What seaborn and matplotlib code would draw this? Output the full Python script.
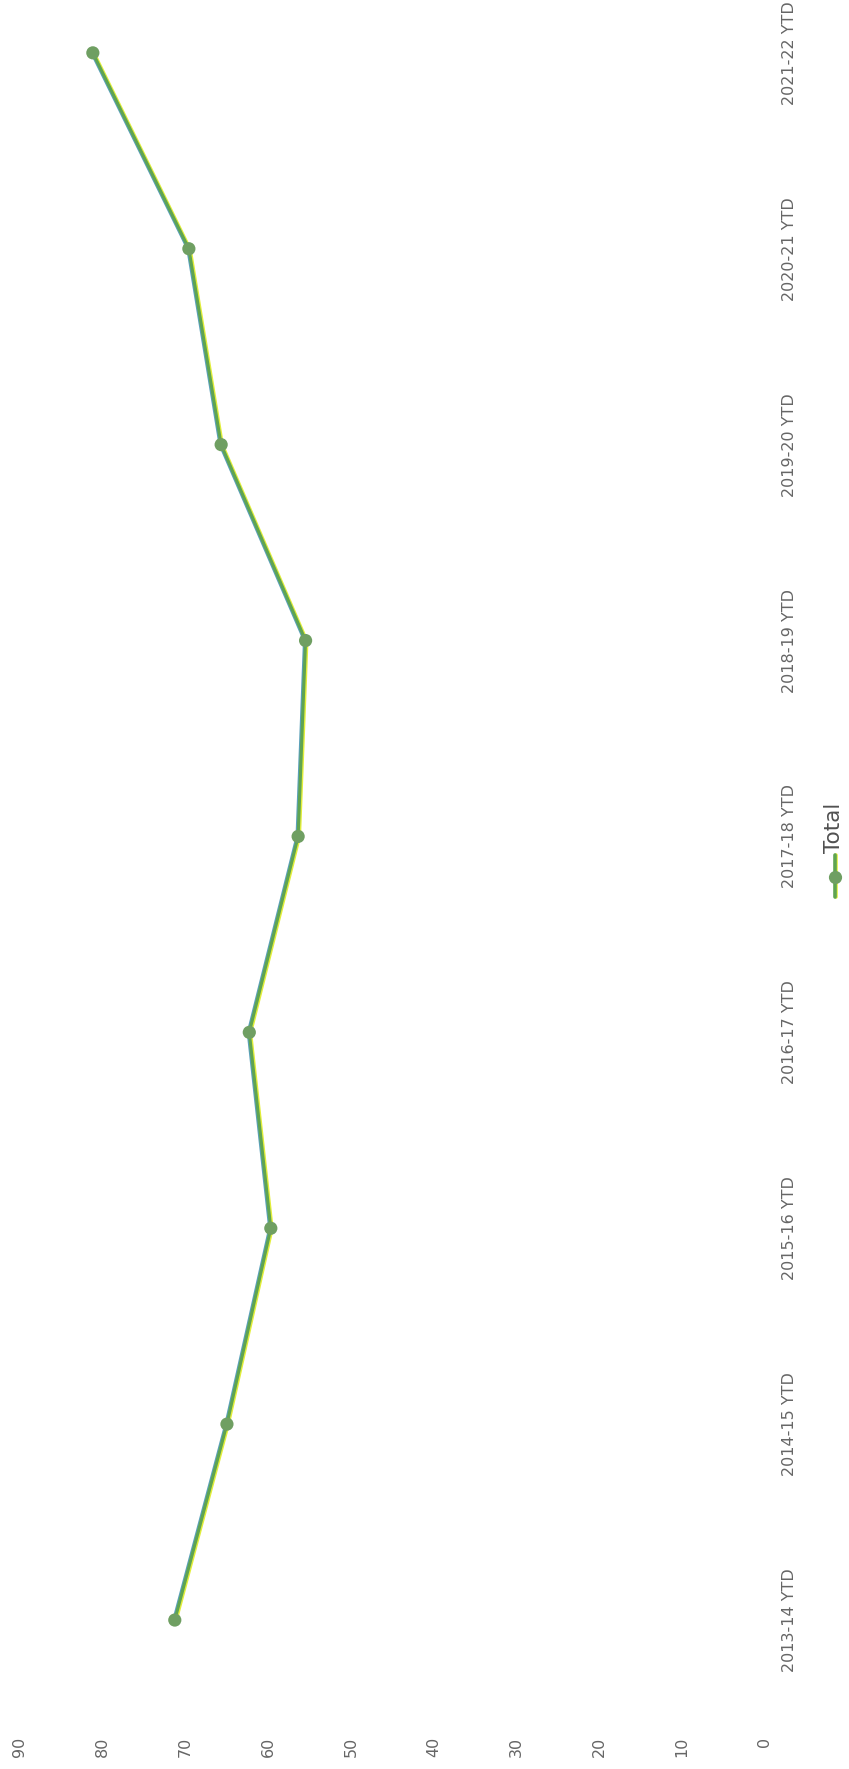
import matplotlib.patheffects as pe
import matplotlib.pyplot as plt
import pandas as pd
import seaborn as sns
from matplotlib.lines import Line2D

# 데이터 (세로로 회전된 꺾은선 차트)
seasons = [
    "2013-14 YTD",
    "2014-15 YTD",
    "2015-16 YTD",
    "2016-17 YTD",
    "2017-18 YTD",
    "2018-19 YTD",
    "2019-20 YTD",
    "2020-21 YTD",
    "2021-22 YTD",
]
totals = [71.3, 65.0, 59.7, 62.3, 56.4, 55.5, 65.7, 69.6, 81.2]
value_ticks = [0, 10, 20, 30, 40, 50, 60, 70, 80, 90]
legend_label = "Total"

df = pd.DataFrame({"season": seasons, "total": totals})
df["pos"] = range(len(df))

sns.set_theme(style="white")
plt.rcParams["font.family"] = ["DejaVu Sans"]

W, H = 849, 1769
fig = plt.figure(figsize=(W / 100, H / 100), dpi=100)
ax = fig.add_axes([20 / W, 51 / H, 745 / W, (H - 51) / H])

line_color = "#5fa451"
effects = [
    pe.SimpleLineShadow(offset=(-0.8, 0), shadow_color="#5aa0b8", alpha=1.0, rho=1),
    pe.SimpleLineShadow(offset=(1.0, -0.3), shadow_color="#e2ee3a", alpha=1.0, rho=1),
    pe.Normal(),
]
sns.lineplot(
    data=df,
    x="total",
    y="pos",
    orient="y",
    sort=False,
    ax=ax,
    color=line_color,
    linewidth=2.2,
    marker="o",
    markersize=9.5,
    markerfacecolor="#6f9f62",
    markeredgewidth=0,
    clip_on=False,
    path_effects=effects,
)

# 축 설정
ax.set_xlim(90, 0)
ax.set_ylim(-0.5, -0.5 + (H - 51) / 195.9)
ax.set_xticks(value_ticks)
ax.set_xticklabels([str(v) for v in value_ticks], rotation=90)
ax.set_yticks(df["pos"])
ax.set_yticklabels(df["season"], rotation=90, va="center")
ax.yaxis.tick_right()
ax.tick_params(axis="x", length=0, pad=13.5, labelsize=11.5, labelcolor="#666666")
ax.tick_params(axis="y", length=0, pad=12, labelsize=11.5, labelcolor="#666666")
ax.set_xlabel("")
ax.set_ylabel("")
for s in ax.spines.values():
    s.set_visible(False)
ax.grid(False)

# 범례 (회전된 형태로 직접 그림)
lx = 835 / W
ly0, ly1 = 1 - 897 / H, 1 - 855 / H
fig.add_artist(
    Line2D(
        [lx, lx],
        [ly0, ly1],
        transform=fig.transFigure,
        color=line_color,
        linewidth=2.6,
        path_effects=[
            pe.SimpleLineShadow(offset=(1.0, -0.3), shadow_color="#e2ee3a", alpha=1.0, rho=1),
            pe.Normal(),
        ],
    )
)
fig.add_artist(
    Line2D(
        [lx],
        [1 - 877 / H],
        transform=fig.transFigure,
        marker="o",
        markersize=9.5,
        markerfacecolor="#6f9f62",
        markeredgewidth=0,
        linestyle="none",
    )
)
fig.text(
    lx - 1 / W,
    ly1 + 2 / H,
    legend_label,
    rotation=90,
    ha="center",
    va="bottom",
    fontsize=15.5,
    color="#505050",
)

fig.savefig("out.png", dpi=100)
plt.close(fig)
